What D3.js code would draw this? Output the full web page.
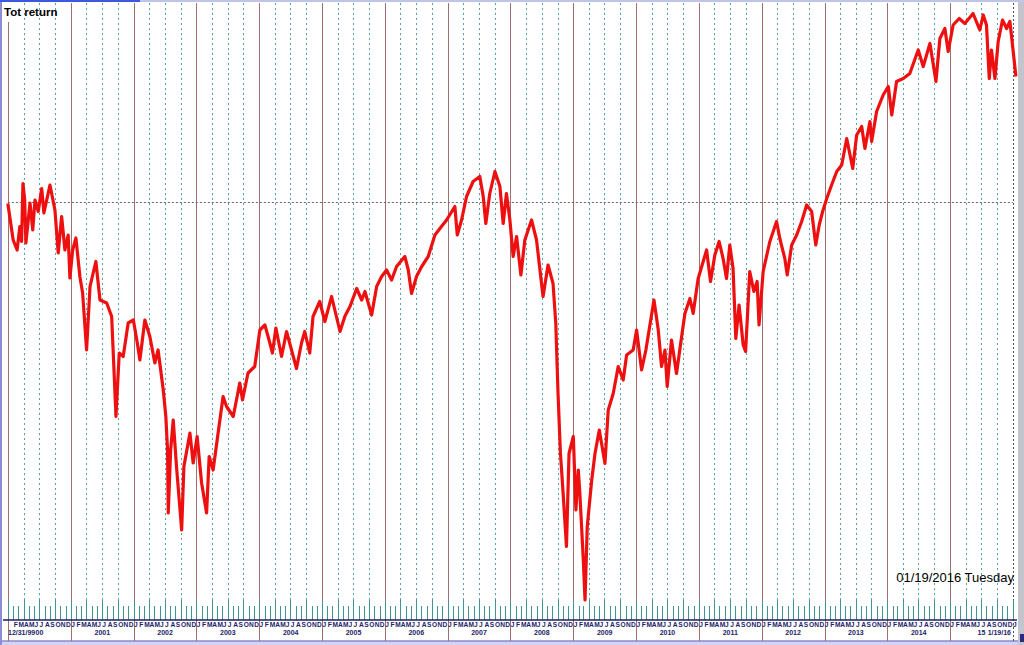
<!DOCTYPE html>
<html>
<head>
<meta charset="utf-8">
<script src="https://cdn.jsdelivr.net/npm/d3@7"></script>
<style>
  body { margin: 0; background: #fff; }
  svg { display: block; }
</style>
</head>
<body>
<div id="chart"></div>
<script>
// total return index (start = 100)
const dates = [
  "1999-12-31","2000-01-31","2000-02-23","2000-03-10","2000-03-20","2000-03-28","2000-04-07","2000-04-14",
  "2000-05-08","2000-05-24","2000-06-06","2000-06-25","2000-07-15","2000-07-28","2000-09-01","2000-09-30",
  "2000-10-19","2000-11-08","2000-11-27","2000-12-16","2000-12-26","2001-01-11","2001-01-30","2001-02-22",
  "2001-03-10","2001-04-02","2001-04-22","2001-05-26","2001-06-19","2001-07-28","2001-08-26","2001-09-20",
  "2001-10-09","2001-11-01","2001-11-30","2001-12-30","2002-01-22","2002-02-06","2002-03-07","2002-04-05",
  "2002-05-04","2002-05-23","2002-06-22","2002-07-07","2002-07-17","2002-07-21","2002-08-04","2002-08-19",
  "2002-09-07","2002-10-07","2002-10-20","2002-11-24","2002-12-13","2003-01-05","2003-01-31","2003-03-01",
  "2003-03-16","2003-04-08","2003-05-07","2003-06-05","2003-06-25","2003-08-03","2003-09-10","2003-09-26",
  "2003-10-28","2003-12-06","2004-01-05","2004-02-03","2004-03-03","2004-03-18","2004-04-07","2004-05-10",
  "2004-06-08","2004-07-07","2004-08-05","2004-09-03","2004-09-22","2004-10-21","2004-11-09","2004-12-18",
  "2005-01-17","2005-02-25","2005-04-15","2005-05-14","2005-06-12","2005-07-21","2005-08-19","2005-09-07",
  "2005-10-16","2005-11-14","2005-12-13","2006-01-11","2006-02-09","2006-03-10","2006-04-27","2006-05-17",
  "2006-06-05","2006-07-04","2006-08-03","2006-09-10","2006-10-19","2006-11-17","2006-12-26","2007-02-12",
  "2007-02-26","2007-03-23","2007-04-21","2007-05-29","2007-07-07","2007-07-27","2007-08-11","2007-09-03",
  "2007-10-03","2007-11-01","2007-11-20","2007-12-09","2007-12-29","2008-01-17","2008-02-06","2008-03-02",
  "2008-03-25","2008-05-03","2008-06-01","2008-06-30","2008-07-09","2008-08-07","2008-09-05","2008-09-21",
  "2008-10-04","2008-10-18","2008-10-30","2008-11-22","2008-12-07","2009-01-01","2009-01-16","2009-01-30",
  "2009-02-08","2009-02-28","2009-03-10","2009-03-23","2009-04-18","2009-05-07","2009-06-01","2009-07-04",
  "2009-07-23","2009-08-21","2009-09-19","2009-10-18","2009-11-07","2009-12-15","2010-01-04","2010-02-02",
  "2010-02-27","2010-04-15","2010-05-10","2010-05-29","2010-06-18","2010-07-01","2010-07-26","2010-08-24",
  "2010-09-23","2010-10-12","2010-11-10","2010-11-29","2010-12-28","2011-02-15","2011-03-10","2011-04-04",
  "2011-04-29","2011-05-22","2011-06-11","2011-06-30","2011-07-19","2011-08-04","2011-08-23","2011-09-16",
  "2011-09-30","2011-10-24","2011-11-17","2011-12-06","2011-12-17","2012-01-10","2012-02-18","2012-03-28",
  "2012-04-16","2012-05-15","2012-05-29","2012-06-24","2012-07-23","2012-08-21","2012-09-19","2012-10-18",
  "2012-11-11","2012-12-01","2012-12-21","2013-01-14","2013-02-11","2013-03-13","2013-04-11","2013-05-10",
  "2013-06-14","2013-07-07","2013-08-05","2013-08-24","2013-09-22","2013-10-02","2013-10-31","2013-12-08",
  "2014-01-07","2014-01-27","2014-02-24","2014-04-04","2014-05-12","2014-06-30","2014-07-29","2014-09-06",
  "2014-10-11","2014-11-03","2014-12-02","2014-12-21","2015-01-19","2015-02-23","2015-03-28","2015-05-15",
  "2015-06-23","2015-07-13","2015-08-01","2015-08-17","2015-08-30","2015-09-19","2015-10-08","2015-11-02",
  "2015-11-26","2015-12-15","2015-12-28","2016-01-19"
];
const totReturn = [
  99.7, 92.4, 90.4, 95.1, 92.1, 103.7, 100.4, 91.8,
  99.8, 94.4, 100.4, 98.1, 102.7, 97.8, 103.4, 98.4,
  89.8, 97.1, 90.4, 93.4, 84.8, 90.4, 92.8, 85.1,
  81.8, 70.4, 83.1, 88.1, 80.4, 79.8, 77.1, 57.1,
  69.8, 69.1, 75.8, 76.4, 71.8, 68.4, 76.4, 73.1,
  67.8, 70.4, 62.4, 57.1, 50.4, 37.8, 50.4, 56.4,
  47.1, 34.4, 47.1, 53.8, 47.8, 53.1, 43.8, 37.8,
  49.1, 46.4, 53.8, 61.1, 59.1, 57.1, 63.8, 60.4,
  65.8, 67.1, 74.4, 75.4, 71.8, 69.8, 74.8, 69.1,
  74.1, 70.4, 66.7, 71.8, 74.1, 69.8, 77.1, 80.1,
  76.1, 81.1, 74.1, 77.2, 79.1, 82.7, 80.4, 82.1,
  77.4, 83.1, 85.1, 86.4, 84.4, 87.1, 89.1, 86.4,
  81.7, 85.1, 87.1, 89.1, 93.4, 94.7, 96.4, 99.1,
  93.4, 96.4, 101.1, 104.1, 105.1, 101.1, 95.7, 101.7,
  106.1, 103.1, 95.7, 101.7, 96.4, 89.1, 93.1, 85.4,
  92.4, 96.4, 92.4, 83.7, 81.1, 87.4, 83.7, 75.7,
  61.7, 49.7, 43.7, 31.1, 49.7, 53.1, 38.4, 46.4,
  41.7, 28.4, 20.4, 35.1, 44.4, 49.7, 54.4, 47.7,
  58.4, 61.7, 67.1, 64.4, 69.4, 70.4, 74.4, 66.4,
  70.4, 80.4, 74.4, 67.1, 70.4, 63.1, 72.4, 65.7,
  73.1, 77.7, 80.7, 77.7, 84.7, 90.4, 84.1, 89.4,
  92.1, 88.7, 84.7, 91.4, 86.7, 72.7, 79.4, 71.4,
  70.1, 86.1, 82.1, 84.1, 75.4, 86.1, 92.1, 96.1,
  92.7, 88.7, 85.4, 91.4, 93.4, 96.1, 99.4, 98.1,
  91.4, 95.4, 98.1, 100.7, 103.4, 106.1, 107.4, 112.7,
  106.7, 113.4, 115.1, 110.7, 116.1, 112.1, 118.1, 121.4,
  123.1, 117.4, 124.1, 124.7, 125.7, 130.4, 127.1, 131.7,
  124.1, 132.7, 134.7, 130.1, 135.4, 136.7, 135.7, 137.7,
  134.4, 137.4, 135.4, 124.7, 130.4, 124.7, 132.1, 136.4,
  134.7, 136.1, 132.1, 125.1
];
const referenceLevel = 100;   // dotted horizontal = starting level
const monthLetters = ["J","F","M","A","M","J","J","A","S","O","N","D"];
// first year shows only "00" next to the start date, last one is abbreviated
const yearLabels = ["00","2001","2002","2003","2004","2005","2006","2007",
                    "2008","2009","2010","2011","2012","2013","2014","15"];
const startLabel = "12/31/99";
const endLabel = "1/19/16";
const dateStamp = "01/19/2016 Tuesday";

const width = 1024;
const height = 645;
const parse = d3.utcParse("%Y-%m-%d");
const series = dates.map((d, i) => ({ date: parse(d), value: totReturn[i] }));

const x = d3.scaleUtc()
  .domain([new Date(Date.UTC(2000, 0, 1)), new Date(Date.UTC(2016, 0, 1))])
  .range([8, 1012.8]);
const y = d3.scaleLinear().domain([20, 140]).range([602, 2]);

const axisY = 620;
const navy = "#1c1c66";

const svg = d3.select("#chart").append("svg")
  .attr("width", width)
  .attr("height", height)
  .style("font-family", "'Liberation Sans', Arial, sans-serif");

svg.append("rect").attr("width", width).attr("height", height).attr("fill", "#fff");

// frame
svg.append("rect").attr("x", 0).attr("y", 641).attr("width", width).attr("height", 4).attr("fill", "#d4d4f2");
svg.append("line").attr("x1", 0).attr("x2", width).attr("y1", 641).attr("y2", 641)
  .attr("stroke", "#8a8ad0").attr("stroke-width", 1.5);
svg.append("rect").attr("x", 1018).attr("y", 0).attr("width", 6).attr("height", height).attr("fill", "#c4c4cc");
svg.append("line").attr("x1", 1).attr("x2", 1).attr("y1", 0).attr("y2", height)
  .attr("stroke", "#8c8cd4").attr("stroke-width", 2);
svg.append("line").attr("x1", 0).attr("x2", width).attr("y1", 1).attr("y2", 1)
  .attr("stroke", "#c0c4e8").attr("stroke-width", 2);
svg.append("line").attr("x1", 0).attr("x2", 140).attr("y1", 1).attr("y2", 1)
  .attr("stroke", "#3a58e0").attr("stroke-width", 2);
svg.append("rect").attr("x", 1020).attr("y", 634).attr("width", 4).attr("height", 8).attr("fill", "#2a2a80");

const months = d3.utcMonth.range(new Date(Date.UTC(2000, 0, 1)), new Date(Date.UTC(2016, 1, 1)));
const years = d3.utcYear.range(new Date(Date.UTC(2000, 0, 1)), new Date(Date.UTC(2016, 0, 1)));

// quarterly dotted grid
svg.append("g")
  .selectAll("line")
  .data(months.filter(m => m.getUTCMonth() % 3 === 0 && m.getUTCMonth() !== 0))
  .join("line")
  .attr("x1", d => Math.round(x(d)) + 0.5).attr("x2", d => Math.round(x(d)) + 0.5)
  .attr("y1", 3).attr("y2", 600)
  .attr("stroke", "#5a9fa3").attr("stroke-width", 1).attr("stroke-dasharray", "2,3");

// year lines
svg.append("g")
  .selectAll("line")
  .data(years)
  .join("line")
  .attr("x1", d => Math.round(x(d)) + 0.5).attr("x2", d => Math.round(x(d)) + 0.5)
  .attr("y1", (d, i) => i === 0 ? 22 : 3).attr("y2", 641)
  .attr("stroke", "#a07070").attr("stroke-width", 1);

// end-of-data marker
const endDate = new Date(Date.UTC(2016, 0, 1));
svg.append("line")
  .attr("x1", Math.round(x(endDate)) + 0.5).attr("x2", Math.round(x(endDate)) + 0.5)
  .attr("y1", 3).attr("y2", 641)
  .attr("stroke", "#555").attr("stroke-dasharray", "2,2");

// reference level
svg.append("line")
  .attr("x1", x(series[0].date)).attr("x2", x(endDate))
  .attr("y1", Math.round(y(referenceLevel)) + 0.5).attr("y2", Math.round(y(referenceLevel)) + 0.5)
  .attr("stroke", "#666").attr("stroke-dasharray", "2,2");

// monthly ticks along the bottom
svg.append("g")
  .selectAll("line")
  .data(months)
  .join("line")
  .attr("x1", d => Math.round(x(d)) + 0.5).attr("x2", d => Math.round(x(d)) + 0.5)
  .attr("y1", d => d.getUTCMonth() % 3 === 0 ? 600 : 606).attr("y2", axisY)
  .attr("stroke", "#3f9494").attr("stroke-width", 1);

svg.append("line")
  .attr("x1", 3).attr("x2", 1017).attr("y1", axisY).attr("y2", axisY)
  .attr("stroke", navy).attr("stroke-width", 1.5);

// month letters
svg.append("g")
  .selectAll("text")
  .data(months.slice(1))
  .join("text")
  .attr("x", d => x(d) + 0.3)
  .attr("y", 627)
  .attr("font-size", 6.6).attr("font-weight", "bold").attr("fill", navy)
  .text(d => monthLetters[d.getUTCMonth()]);

// start date, with the first year's "00" running straight after it
const startText = svg.append("text").attr("x", 8).attr("y", 635)
  .attr("font-size", 7).attr("font-weight", "bold").attr("fill", navy).text(startLabel);
const startEnd = 8 + startText.node().getComputedTextLength() + 0.3;

// year labels
svg.append("g")
  .selectAll("text")
  .data(years)
  .join("text")
  .attr("x", (d, i) => i === 0 ? startEnd : x(d) + (x(d3.utcYear.offset(d, 1)) - x(d)) / 2)
  .attr("y", 635)
  .attr("text-anchor", (d, i) => i === 0 ? "start" : "middle")
  .attr("font-size", 7).attr("font-weight", "bold").attr("fill", navy)
  .text((d, i) => yearLabels[i]);

svg.append("text").attr("x", 1011).attr("y", 635).attr("text-anchor", "end")
  .attr("font-size", 7).attr("font-weight", "bold").attr("fill", navy).text(endLabel);

// the series
svg.append("path")
  .datum(series)
  .attr("fill", "none")
  .attr("stroke", "#ee1010")
  .attr("stroke-width", 3.2)
  .attr("stroke-linejoin", "round")
  .attr("d", d3.line().x(d => x(d.date)).y(d => y(d.value)));

svg.append("text").attr("x", 4).attr("y", 16)
  .attr("font-size", 11.5).attr("font-weight", "bold").attr("fill", "#000")
  .text("Tot return");

svg.append("text").attr("x", 1014).attr("y", 582).attr("text-anchor", "end")
  .attr("font-size", 13).attr("fill", "#000")
  .text(dateStamp);
</script>
</body>
</html>
